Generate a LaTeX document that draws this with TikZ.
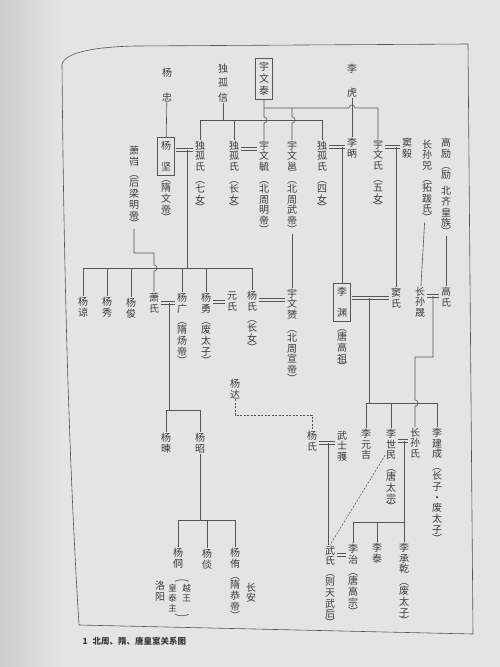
\documentclass[tikz,border=0pt]{standalone}
\usepackage{fontspec}
\usepackage{graphicx}
\newfontfamily\cjk{Noto Sans CJK SC}
\usetikzlibrary{calc}

\definecolor{paper}{HTML}{E4E4E2}
\definecolor{margin}{HTML}{CDCDCC}
\definecolor{ink}{HTML}{3A3A3A}
\definecolor{rule}{HTML}{555555}

\tikzset{
  person/.style={font=\cjk\fontsize{10}{10.8}\selectfont, text=ink, align=center, anchor=north, inner sep=0.6pt},
  ruler/.style={person, draw=rule, line width=0.6pt, inner xsep=3.5pt, inner ysep=4pt},
  pair/.style={font=\cjk\fontsize{8.5}{10}\selectfont, text=ink, anchor=north, inner sep=0pt},
  kin/.style={draw=rule, line width=0.6pt},
  marry/.style={draw=rule, line width=0.5pt, double=paper, double distance=2.2pt, shorten <=1.5pt, shorten >=1.5pt},
  link/.style={draw=rule, line width=0.6pt, dash pattern=on 2pt off 1.5pt},
}

\begin{document}
\begin{tikzpicture}[x=1pt,y=-1pt]
\useasboundingbox (0,0) rectangle (500,667);
\fill[paper] (0,0) rectangle (500,667);
\shade[left color=margin, right color=paper] (0,0) rectangle (62,667);
% frame of the plate
\draw[rule, line width=0.6pt] (62,64) .. controls (64,300) and (70,480) .. (79,625) -- (473,634) -- (468,44) -- (135,46) .. controls (95,47) and (66,52) .. (62,64);
\node[anchor=west, font=\cjk\bfseries\fontsize{8.5}{10}\selectfont, text=ink] (cap) at (79,641) {1\hspace{5pt}北周、隋、唐皇室关系图};

% first generation
\node[person] (yz) at (167,67) {杨\\[14pt]忠};
\node[person] (dgx) at (223,63) {独\\[4pt]孤\\[4pt]信};
\node[ruler] (ywt) at (264,58) {宇\\[1pt]文\\[1pt]泰};
\node[person] (lh) at (352,63) {李\\[13pt]虎};

% second generation
\node[person] (xk) at (134,145) {萧\\岿\\[2pt]︵\\[-2pt]后\\梁\\明\\帝\\[-2pt]︶};
\node[ruler] (yj) at (166,137) {杨\\[10pt]坚};
\node[person] (yj-t) at (166,180) {︵\\[-2pt]隋\\文\\帝\\[-2pt]︶};
\node[person] (dg7) at (200,140) {独\\孤\\氏\\[2pt]︵\\[-2pt]七\\女\\[-2pt]︶};
\node[person] (dg1) at (234,140) {独\\孤\\氏\\[2pt]︵\\[-2pt]长\\女\\[-2pt]︶};
\node[person] (ywy) at (264,140) {宇\\文\\毓\\[2pt]︵\\[-2pt]北\\周\\明\\帝\\[-2pt]︶};
\node[person] (ywyong) at (292,140) {宇\\文\\邕\\[2pt]︵\\[-2pt]北\\周\\武\\帝\\[-2pt]︶};
\node[person] (dg4) at (322,140) {独\\孤\\氏\\[2pt]︵\\[-2pt]四\\女\\[-2pt]︶};
\node[person] (lb) at (352,137) {李\\昞};
\node[person] (ywf) at (378,139) {宇\\文\\氏\\[2pt]︵\\[-2pt]五\\女\\[-2pt]︶};
\node[person] (dy) at (407,137) {窦\\毅};
\node[person] (zss) at (427,139) {长\\孙\\兕\\[2pt]︵\\[-2pt]拓\\跋\\氏\\[-2pt]︶};
\node[person] (gl) at (446,137) {高\\励\\[2pt]︵\\[-2pt]励\\[5pt]北\\齐\\皇\\族\\[-2pt]︶};

% third generation
\node[person] (ylg) at (83,296) {杨\\谅};
\node[person] (yx) at (107,296) {杨\\秀};
\node[person] (yjun) at (131,297) {杨\\俊};
\node[person] (xs) at (154,292) {萧\\氏};
\node[person] (yg) at (182,292) {杨\\广\\[2pt]︵\\[-2pt]隋\\炀\\帝\\[-2pt]︶};
\node[person] (yy) at (206,292) {杨\\勇\\[2pt]︵\\[-2pt]废\\太\\子\\[-2pt]︶};
\node[person] (ys) at (232,291) {元\\氏};
\node[person] (ysf) at (252,290) {杨\\氏\\[2pt]︵\\[-2pt]长\\女\\[-2pt]︶};
\node[person] (ywyun) at (292,288) {宇\\文\\赟\\[3pt]︵\\[-2pt]北\\周\\宣\\帝\\[-2pt]︶};
\node[ruler] (ly) at (342,283) {李\\[10pt]渊};
\node[person] (ly-t) at (342,329) {︵\\[-2pt]唐\\高\\祖\\[-2pt]︶};
\node[person] (ds) at (396,287) {窦\\氏};
\node[person] (zsc) at (420,286) {长\\孙\\晟};
\node[person] (gs) at (446,286) {高\\氏};

% fourth generation and after
\node[person] (yd) at (235,378) {杨\\达};
\node[person] (yshi) at (312,430) {杨\\氏};
\node[person] (wsy) at (342,430) {武\\士\\彟};
\node[person] (lyj) at (366,428) {李\\元\\吉};
\node[person] (lsm) at (391,428) {李\\世\\民\\[2pt]︵\\[-2pt]唐\\太\\宗\\[-2pt]︶};
\node[person] (zsshi) at (415,427) {长\\孙\\氏};
\node[person] (ljc) at (437,427) {李\\建\\成\\[2pt]︵\\[-2pt]长\\子\\・\\废\\太\\子\\[-2pt]︶};
\node[person] (yjian) at (166,432) {杨\\暕};
\node[person] (yzh) at (200,432) {杨\\昭};
\node[person] (ytong) at (178,547) {杨\\侗};
\node[person] (ytan) at (207,548) {杨\\倓};
\node[person] (you) at (235,547) {杨\\侑\\[2pt]︵\\[-2pt]隋\\恭\\帝\\[-2pt]︶};
\node[pair] (ytong-t) at (182,574) {\begin{tabular}{@{}c@{\hspace{1pt}}c@{}}\multicolumn{2}{c}{\scalebox{1.8}[1]{︵}}\\ 皇&越\\ 泰&王\\ 主&\\ \multicolumn{2}{c}{\scalebox{1.8}[1]{︶}}\end{tabular}};
\node[person] (luoy) at (160,580) {洛\\阳};
\node[person] (chan) at (251,582) {长\\安};
\node[person] (wshi) at (330,545) {武\\氏\\[1pt]︵\\[-2pt]则\\天\\武\\后\\[-2pt]︶};
\node[person] (lzh) at (353,543) {李\\治\\[2pt]︵\\[-2pt]唐\\高\\宗\\[-2pt]︶};
\node[person] (ltai) at (377,542) {李\\泰};
\node[person] (lcq) at (404,542) {李\\承\\乾\\[2pt]︵\\[-2pt]废\\太\\子\\[-2pt]︶};

% descent from the first generation
\draw[kin] (yz) -- (yj);
\coordinate (dgj) at (223,120);
\draw[kin] (dgx) -- (dgj);
\draw[kin] (dg7) |- (dgj -| dg4) -- (dg4);
\draw[kin] (dg1) -- (dg1 |- dgj);
\coordinate (ywj) at (264,108);
\draw[kin] (ywt) -- (ywj) -- ++(0,9) arc[start angle=90,end angle=-90,radius=3pt] -- (ywy);
\draw[kin] (ywj) -- ($(ywj -| lh)+(-3,0)$) arc[start angle=180,end angle=0,radius=3pt] -| (ywf);
\draw[kin] (ywj -| ywyong) -- ++(0,9) arc[start angle=90,end angle=-90,radius=3pt] -- (ywyong);
\draw[kin] (lh) -- (lb);

% marriages
\coordinate (m1) at (187,150);
\draw[marry] (yj.east |- m1) -- (dg7.west |- m1);
\coordinate (m2) at (249,149);
\draw[marry] (dg1.east |- m2) -- (ywy.west |- m2);
\coordinate (m3) at (342,147);
\draw[marry] (dg4.east |- m3) -- (lb.west |- m3);
\coordinate (m4) at (396,147);
\draw[marry] (ywf.east |- m4) -- (dy.west |- m4);
\draw[kin] (m3) -- (ly);
\draw[kin] (m4) -- (ds);

% Yang Jian's children
\coordinate (c1) at (187,268);
\draw[kin] (m1) -- (c1);
\draw[kin] (ylg) |- (c1 -| ysf) -- (ysf);
\foreach \k in {yx,yjun,yg,yy}
  \draw[kin] (\k) -- (\k |- c1);
\coordinate (xkj) at (154,253);
\draw[kin] (xk) |- (xkj) -- ++(0,12) arc[start angle=90,end angle=-90,radius=3pt] -- (xs);
\draw[kin] (ywyong) -- (ywyun);
\draw[kin] (zss) -- (zsc);
\draw[kin] (gl) -- (gs);

\coordinate (m5) at (169,303);
\draw[marry] (xs.east |- m5) -- (yg.west |- m5);
\coordinate (m6) at (219,302);
\draw[marry] (yy.east |- m6) -- (ys.west |- m6);
\coordinate (m7) at (272,300);
\draw[marry] (ysf.east |- m7) -- (ywyun.west |- m7);
\coordinate (m8) at (369,298);
\draw[marry] (ly.east |- m8) -- (ds.west |- m8);
\coordinate (m9) at (433,296);
\draw[marry] (zsc.east |- m9) -- (gs.west |- m9);

% Sui line
\coordinate (c5) at (169,410);
\draw[kin] (m5) -- (c5);
\draw[kin] (yjian) |- (c5 -| yzh) -- (yzh);
\coordinate (c6) at (200,520);
\draw[kin] (yzh) -- (c6);
\draw[kin] (ytong) |- (c6 -| you) -- (you);
\draw[kin] (ytan) -- (ytan |- c6);

% Tang line
\coordinate (c8) at (369,403);
\draw[kin] (m8) -- (c8);
\draw[kin] (lyj) |- (c8 -| ljc) -- (ljc);
\draw[kin] (lsm) -- (lsm |- c8);
\coordinate (zsj) at (415,357);
\draw[kin] (m9) |- (zsj) -- ($(zsj |- c8)+(0,-3)$) arc[start angle=90,end angle=-90,radius=3pt] -- (zsshi);

\coordinate (m10) at (328,443);
\draw[marry] (yshi.east |- m10) -- (wsy.west |- m10);
\coordinate (m11) at (404,441);
\draw[marry] (lsm.east |- m11) -- (zsshi.west |- m11);
\coordinate (m12) at (342,555);
\draw[marry] (wshi.east |- m12) -- (lzh.west |- m12);
\draw[kin] (m10) -- (m10 |- wshi.north);
\coordinate (c11) at (404,522);
\draw[kin] (m11) -- (lcq);
\draw[kin] (lzh) |- (c11);
\draw[kin] (ltai) -- (ltai |- c11);

% dotted ties
\coordinate (ydj) at (235,415);
\draw[link] (yd) -- (ydj) -| (yshi);
\draw[link] ([yshift=-27pt]lsm.north west) -- (wshi.north);
\end{tikzpicture}
\end{document}
